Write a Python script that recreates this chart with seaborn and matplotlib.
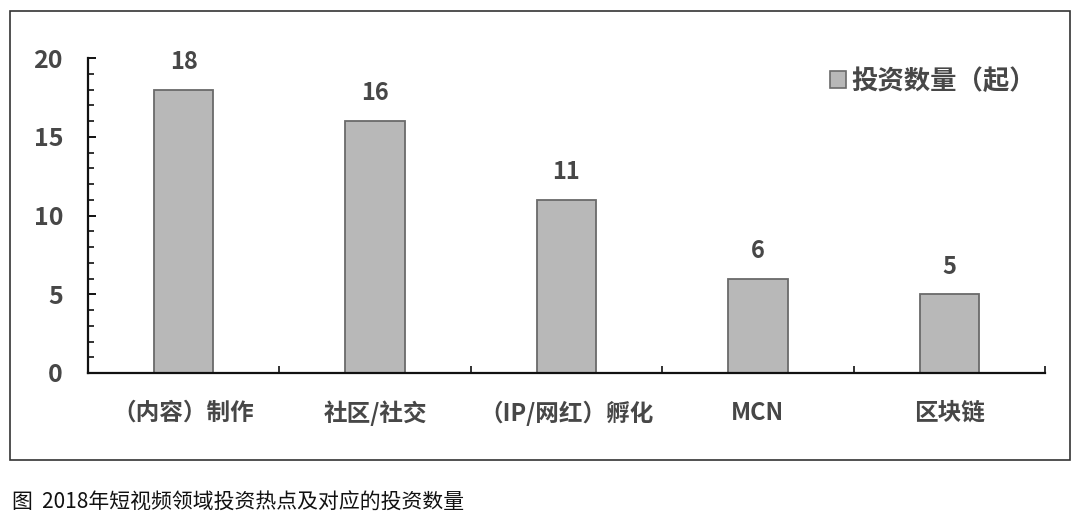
import matplotlib
matplotlib.use("Agg")
import matplotlib.pyplot as plt
import seaborn as sns
import pandas as pd
from matplotlib.patches import Rectangle, Patch
from matplotlib.ticker import MultipleLocator, FixedLocator

# --- data ---
categories = ['（内容）制作', '社区/社交', '（IP/网红）孵化', 'MCN', '区块链']
counts = [18, 16, 11, 6, 5]
series_name = '投资数量（起）'
caption = '图  2018年短视频领域投资热点及对应的投资数量'
y_ticks = [0, 5, 10, 15, 20]

df = pd.DataFrame({'category': categories, 'count': counts})

sns.set_theme(style="white")
plt.rcParams['font.family'] = ['Noto Sans CJK SC', 'DejaVu Sans']
text_color = '#474747'
weight = 'bold'

fig = plt.figure(figsize=(10.8, 5.23), dpi=100)
ax = fig.add_axes([88 / 1080, 1 - 373 / 523, (1045 - 88) / 1080, (373 - 58) / 523])

sns.barplot(data=df, x='category', y='count', ax=ax, color='#b8b8b8',
            edgecolor='#6a6a6a', linewidth=1.3, width=0.31, saturation=1)

for i, v in enumerate(counts):
    ax.text(i, v + 1.0, str(v), ha='center', va='bottom', fontsize=17,
            color=text_color, fontweight=weight)

ax.set_xlim(-0.5, len(categories) - 0.5)
ax.set_ylim(0, 20)
ax.set_yticks(y_ticks)
ax.yaxis.set_minor_locator(MultipleLocator(1))
ax.xaxis.set_minor_locator(FixedLocator([i + 0.5 for i in range(len(categories))]))
ax.set_xlabel('')
ax.set_ylabel('')

for s in ['top', 'right']:
    ax.spines[s].set_visible(False)
for s in ['left', 'bottom']:
    ax.spines[s].set_color('#111111')
    ax.spines[s].set_linewidth(1.6)

ax.tick_params(axis='y', which='major', direction='in', length=6, width=1.4,
               color='#111111', labelsize=18, labelcolor=text_color, pad=18, left=True)
ax.tick_params(axis='y', which='minor', direction='in', length=4, width=1.2,
               color='#111111', left=True)
ax.tick_params(axis='x', which='major', length=0, labelsize=17,
               labelcolor=text_color, pad=20)
ax.tick_params(axis='x', which='minor', direction='in', length=5, width=1.2,
               color='#111111', bottom=True)
for lbl in ax.get_xticklabels() + ax.get_yticklabels():
    lbl.set_fontweight(weight)

handle = Patch(facecolor='#b8b8b8', edgecolor='#6a6a6a', linewidth=1.2)
fig.legend([handle], [series_name], loc='center left',
           bbox_to_anchor=(806 / 1080, 1 - 81 / 523), frameon=False,
           prop={'size': 19, 'weight': weight}, handlelength=0.6,
           handleheight=0.6, handletextpad=0.2, labelcolor=text_color)

# outer frame around the chart
fig.patches.append(Rectangle((10 / 1080, 1 - 460 / 523), 1060 / 1080, 449 / 523,
                             transform=fig.transFigure, fill=False,
                             edgecolor='#333333', linewidth=1.2))

fig.text(12 / 1080, 1 - 503 / 523, caption, ha='left', va='center',
         fontsize=15, color='#111111')

fig.savefig('out.png', dpi=100)
